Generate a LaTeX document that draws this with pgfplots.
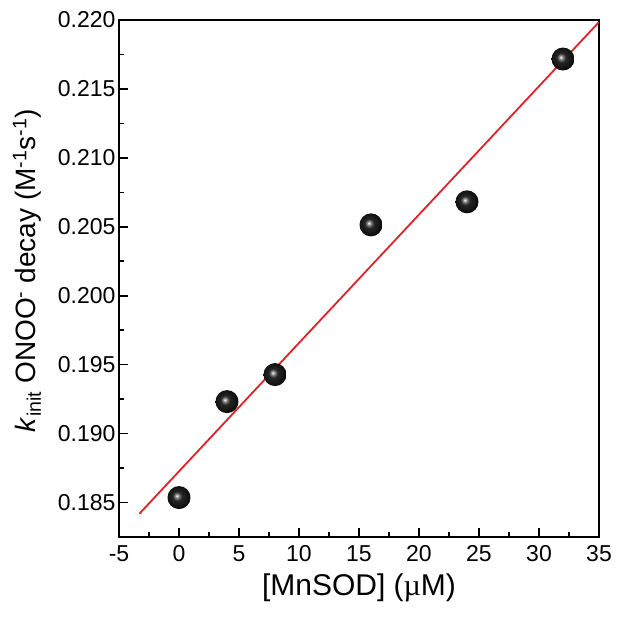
\documentclass[border=0pt]{standalone}
\usepackage{fontspec}
\setmainfont{Liberation Sans}
\newfontfamily\serifmu{Liberation Serif}
\usepackage{pgfplots}
\pgfplotsset{compat=1.18}
\pgfdeclareradialshading{myball}{\pgfpoint{-5bp}{4bp}}{%
  color(0bp)=(white);
  color(4bp)=(black!45);
  color(10bp)=(black!85);
  color(25bp)=(black!95);
  color(50bp)=(black)}
\pgfdeclareplotmark{myball}{%
  \pgfpathcircle{\pgfpointorigin}{\pgfplotmarksize}%
  \pgfshadepath{myball}{0}%
  \pgfusepath{}}
\begin{document}
\begin{tikzpicture}
\begin{axis}[
  name=ax,
  scale only axis,
  width=480bp, height=517bp,
  xmin=-5, xmax=35, ymin=0.1825, ymax=0.220,
  xtick={-5,0,...,35},
  ytick={0.185,0.190,...,0.2201},
  minor x tick num=1, minor y tick num=1,
  tick pos=left, tick align=inside,
  major tick length=9bp, minor tick length=5bp,
  every tick/.style={line width=1.6bp, black},
  axis line style={line width=1.6bp},
  font=\fontsize{23bp}{28bp}\selectfont,
  /pgf/number format/assume math mode=true,
  yticklabel style={/pgf/number format/fixed, /pgf/number format/precision=3, /pgf/number format/fixed zerofill},
  xticklabel style={yshift=-5bp},
  scaled y ticks=false,
  xlabel={[MnSOD] ({\serifmu µ}M)},
  ylabel={\textit{k}\textsubscript{init} ONOO\textsuperscript{-} decay (M\textsuperscript{-1}s\textsuperscript{-1})},
  xlabel style={font=\fontsize{30bp}{36bp}\selectfont, yshift=-5bp},
  ylabel style={font=\fontsize{28bp}{34bp}\selectfont, yshift=10bp, xshift=8bp},
  clip=false,
]
\addplot[color={rgb,255:red,220;green,35;blue,40}, line width=1.8bp] coordinates {(-3.3,0.18419) (35,0.21985)};
\addplot[only marks, mark=myball, mark size=11.5bp] coordinates {
(0,0.18536) (4,0.19232) (8,0.19428) (16,0.20514) (24,0.20681) (32,0.21717)};
\end{axis}
\path ([xshift=-119bp,yshift=-80bp]ax.south west) rectangle ([xshift=19bp,yshift=20bp]ax.north east);
\end{tikzpicture}
\end{document}
